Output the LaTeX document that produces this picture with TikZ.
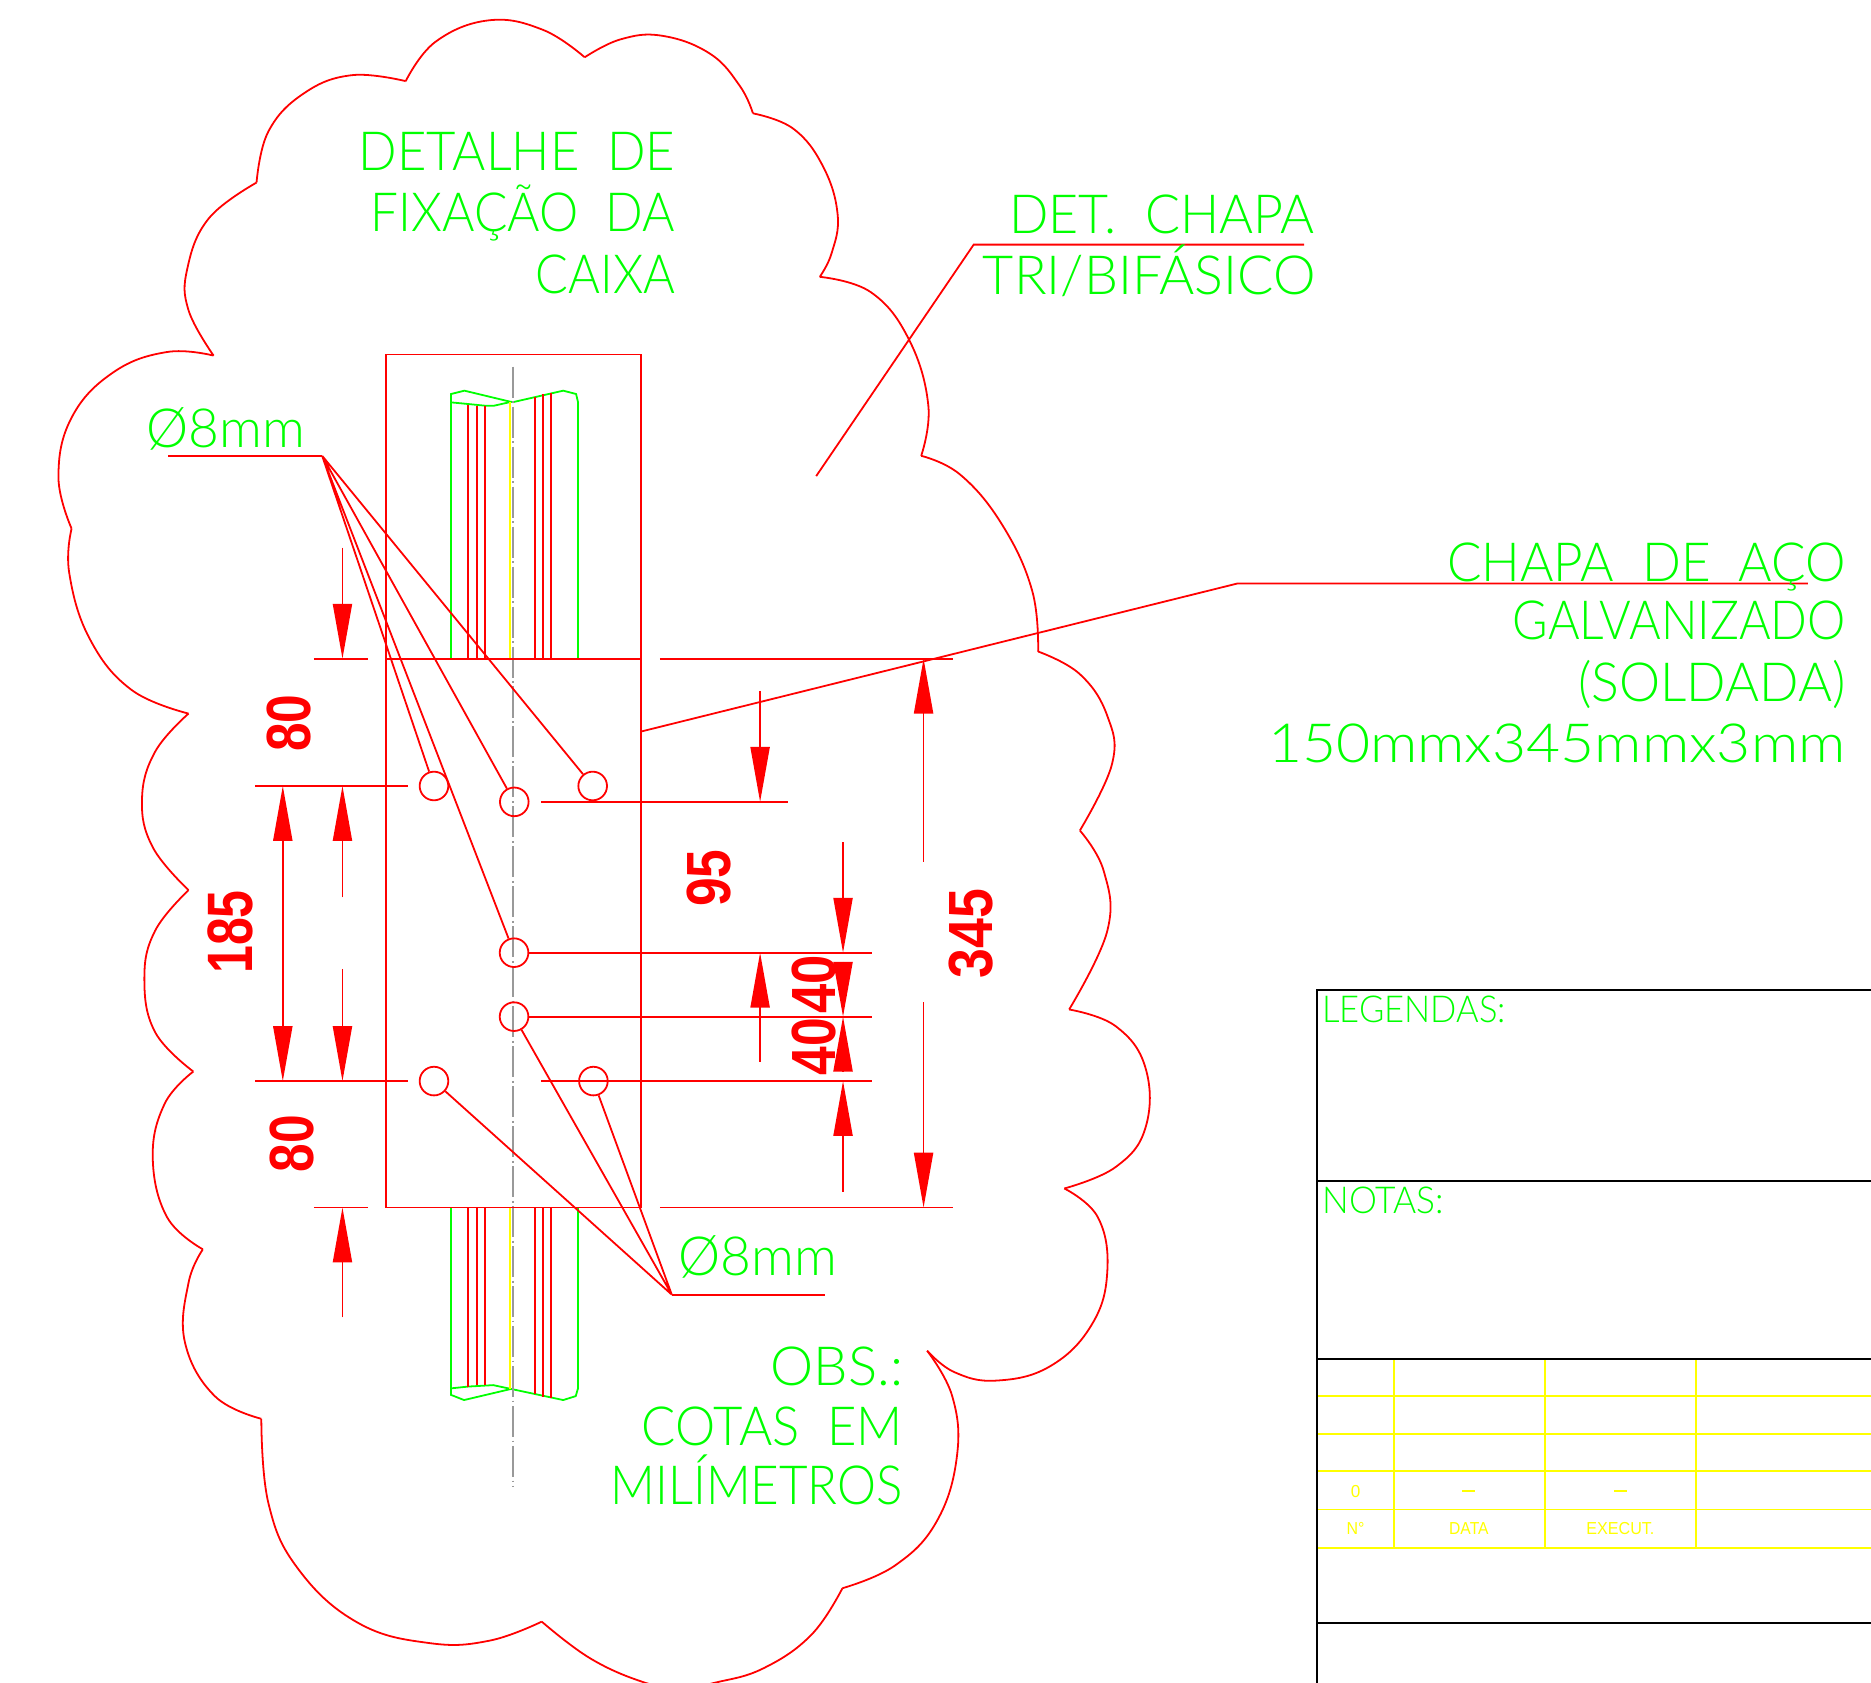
\documentclass[tikz,border=0pt]{standalone}
\usepackage{fontspec}
\usepackage{graphicx}
\usetikzlibrary{arrows.meta}
\setmainfont{Lato Light}
\newfontfamily\dimfont{Liberation Sans Bold}
\newfontfamily\smallfont{Liberation Sans}
\newcommand\cad[3]{\resizebox{#1pt}{#2pt}{\setbox0\hbox{H}\raisebox{0pt}[\ht0][0pt]{#3}}}
\definecolor{cadred}{RGB}{255,0,0}
\definecolor{cadgreen}{RGB}{0,255,0}
\definecolor{cadyellow}{RGB}{255,255,0}
\definecolor{cadgray}{RGB}{153,153,153}
\tikzset{
  rl/.style={draw=cadred,line width=1.5pt},
  gl/.style={draw=cadgreen,line width=1.5pt},
  yl/.style={draw=cadyellow,line width=1.5pt},
  kl/.style={draw=black,line width=1.7pt},
  cl/.style={draw=cadgray,line width=1.4pt,dash pattern=on 26pt off 3pt on 1.5pt off 3pt},
  dimar/.style={rl,-{Triangle[length=46pt,width=16pt,fill=cadred]}},
  dimdbl/.style={rl,{Triangle[length=46pt,width=16pt,fill=cadred]}-{Triangle[length=46pt,width=16pt,fill=cadred]}},
  hole/.style={circle,draw=cadred,line width=1.5pt,minimum size=24pt,inner sep=0pt},
  gt/.style={text=cadgreen,inner sep=0pt,anchor=base east},
  gtl/.style={text=cadgreen,inner sep=0pt,anchor=base west},
  yt/.style={text=cadyellow,inner sep=0pt,anchor=base,font=\smallfont},
  dt/.style={text=cadred,inner sep=0pt,rotate=90,anchor=center,font=\dimfont},
}
\begin{document}
\begin{tikzpicture}[x=1pt,y=-1pt]
\useasboundingbox (0,0) rectangle (1568,1410.4);
\clip (0,0) rectangle (1568,1410.4);
\fill[white] (0,0) rectangle (1568,1410.4);
% revision cloud
\foreach \seg in {
 {(490,48) (520,33) (555,30) (595,45) (620,72) (631,95)},
 {(631,95) (665,108) (690,140) (702,180) (697,212) (687,232)},
 {(687,232) (730,245) (762,285) (778,340) (772,382)},
 {(772,382) (805,398) (840,440) (865,495) (870,546)},
 {(870,546) (905,565) (928,600) (932,640) (905,696)},
 {(905,696) (925,730) (928,780) (896,846)},
 {(896,846) (935,860) (960,895) (960,945) (935,978) (892,996)},
 {(892,996) (920,1020) (928,1065) (915,1110) (880,1145) (835,1157) (800,1150) (777,1132)},
 {(777,1132) (798,1170) (802,1220) (785,1275) (750,1312) (706,1331)},
 {(706,1331) (680,1370) (640,1398) (600,1410) (570,1415) (540,1410) (495,1390) (454,1359)},
 {(454,1359) (410,1375) (360,1377) (300,1360) (250,1315) (225,1260) (219,1189)},
 {(219,1189) (180,1170) (155,1125) (158,1075) (170,1047)},
 {(170,1047) (140,1020) (128,970) (138,925) (162,898)},
 {(162,898) (130,865) (121,820) (130,780) (158,746)},
 {(158,746) (128,710) (119,670) (130,630) (158,598)},
 {(158,598) (110,578) (75,535) (58,480) (60,443)},
 {(60,443) (49,400) (60,350) (95,312) (140,295) (179,298)},
 {(179,298) (158,260) (157,225) (175,183) (215,153)},
 {(215,153) (225,110) (255,78) (295,63) (340,68)},
 {(340,68) (365,35) (410,17) (455,25) (490,48)}}
 {\draw[rl] plot[smooth,tension=0.7] coordinates \seg;}
% legend frame
\foreach \yy in {1170,1202,1233,1265,1297} \draw[yl] (1104,\yy) -- (1568,\yy);
\foreach \xx in {1168.4,1294.6,1421} \draw[yl] (\xx,1139) -- (\xx,1297);
\draw[kl] (1568,830) -- (1104,830) -- (1104,1410.4);
\draw[kl] (1104,990) -- (1568,990);
\draw[kl] (1104,1138.5) -- (1568,1138.5);
\draw[kl] (1104,1360) -- (1568,1360);
\node[yt] at (1136,1255) {\cad{8}{10}{0}};
\node[yt] at (1231,1250) {\cad{11}{1.4}{\rule{1em}{1ex}}};
\node[yt] at (1358,1250) {\cad{11}{1.4}{\rule{1em}{1ex}}};
\node[yt] at (1136,1286) {\cad{15}{10}{N°}};
\node[yt] at (1231,1286) {\cad{33}{10}{DATA}};
\node[yt] at (1358,1286) {\cad{57}{10}{EXECUT.}};
\node[gtl] at (1108,857) {\cad{154}{22}{LEGENDAS:}};
\node[gtl] at (1108,1017) {\cad{102}{22}{NOTAS:}};
% rails
\draw[gl] (378,552) -- (378,330.2) -- (389.2,327.4) -- (427.4,336.6) -- (430,337) -- (472,327.4) -- (482.8,330.2) -- (484.4,337) -- (484.4,552);
\draw[gl] (378,337.2) -- (392.5,338.6) -- (406.5,340) -- (414,340) -- (427.4,337);
\draw[rl] (392.5,339)--(392.5,552) (399.5,340)--(399.5,552) (406.2,340)--(406.2,552);
\draw[rl] (448.4,333)--(448.4,552) (455,330.6)--(455,552) (461.8,329.2)--(461.8,552);
\draw[yl] (427.7,337)--(427.7,552);
\draw[gl] (378,1012) -- (378,1169) -- (388.9,1173.3) -- (428.3,1164) -- (472,1173.3) -- (482.5,1170) -- (484.4,1163.5) -- (484.4,1012);
\draw[gl] (378,1163.5) -- (392.5,1162) -- (413.3,1160.8) -- (428.3,1164);
\draw[rl] (392.5,1012)--(392.5,1162) (399.5,1012)--(399.5,1161) (406.2,1012)--(406.2,1161);
\draw[rl] (448.4,1012)--(448.4,1168) (455,1012)--(455,1170.7) (461.8,1012)--(461.8,1172);
\draw[yl] (427.7,1012)--(427.7,1164);
\draw[cl] (430,307.3) -- (430,1245.5);
% plates
\draw[rl] (323.5,1012) -- (323.5,297) -- (537.5,297) -- (537.5,1012) -- cycle;
\draw[rl] (323.5,552) -- (537.5,552);
% holes
\node[hole] (h1) at (363.7,658.7) {};
\node[hole] (h2) at (431,672) {};
\node[hole] (h3) at (496.7,658.7) {};
\node[hole] (h4) at (430.8,798.4) {};
\node[hole] (h5) at (430.8,852) {};
\node[hole] (h6) at (363.7,906) {};
\node[hole] (h7) at (497.3,906) {};
% extension lines
\draw[rl] (263,552)--(308,552) (553,552)--(799,552);
\draw[rl] (214,658.7)--(342,658.7);
\draw[rl] (453.4,672)--(660,672);
\draw[rl] (h4.east)--(731,798.4);
\draw[rl] (h5.east)--(731,852);
\draw[rl] (214,906)--(342,906) (453.4,906)--(731,906);
\draw[rl] (263,1012)--(308,1012) (553,1012)--(799,1012);
% dimensions
\draw[dimar] (287,459)--(287,552);
\draw[dimar] (287,752)--(287,658.7);
\draw[dimar] (287,812)--(287,906);
\draw[dimar] (287,1104)--(287,1012);
\draw[dimdbl] (237,658.7)--(237,906);
\draw[dimar] (637,579)--(637,672);
\draw[dimar] (637,890)--(637,798.4);
\draw[dimar] (706.5,706)--(706.5,798.4);
\draw[dimar] (706.5,806)--(706.5,852);
\draw[dimar] (706.5,898)--(706.5,852);
\draw[dimar] (706.5,998.7)--(706.5,906);
\draw[dimar] (774,722)--(774,552);
\draw[dimar] (774,840)--(774,1012);
\node[dt] at (242.5,606) {\cad{48}{36}{80}};
\node[dt] at (245,958.5) {\cad{48}{36}{80}};
\node[dt] at (193,781) {\cad{70}{37}{185}};
\node[dt] at (594,736) {\cad{48}{36}{95}};
\node[dt] at (682,825) {\cad{49}{36}{40}};
\node[dt] at (682,877) {\cad{48}{36}{40}};
\node[dt] at (814,782.5) {\cad{75}{36}{345}};
% leaders
\coordinate (lt) at (270,382);
\coordinate (lb) at (563,1085);
\draw[rl] (141,382) -- (lt);
\draw[rl] (lt)--(h1) (lt)--(h2) (lt)--(h3) (lt)--(h4);
\draw[rl] (691,1085) -- (lb);
\draw[rl] (lb)--(h5) (lb)--(h6) (lb)--(h7);
\draw[rl] (1093,205) -- (816,205) -- (684,399);
\draw[rl] (1515,489) -- (1037,489) -- (537.5,613);
% texts
\node[gt] at (566,143) {\cad{265}{32}{DETALHE\ \ DE}};
\node[gt] at (566,194) {\cad{255}{32}{FIXAÇÃO\ \ DA}};
\node[gt] at (566,246) {\cad{117}{32}{CAIXA}};
\node[gt] at (1102,196) {\cad{256}{32}{DET.\ \ CHAPA}};
\node[gt] at (1103,247) {\cad{279}{32}{TRI/BIFÁSICO}};
\node[gt] at (256,375) {\cad{133}{32}{Ø8mm}};
\node[gt] at (702,1069) {\cad{133}{32}{Ø8mm}};
\node[gt] at (1547,487) {\cad{334}{32}{CHAPA\ \ DE\ \ AÇO}};
\node[gt] at (1547,536) {\cad{279}{32}{GALVANIZADO}};
\node[gt] at (1547,588) {\cad{224}{32}{(SOLDADA)}};
\node[gt] at (1547,639) {\cad{484}{32}{150mmx345mmx3mm}};
\node[gt] at (757,1161) {\cad{111}{32}{OBS.:}};
\node[gt] at (757,1211) {\cad{219}{32}{COTAS\ \ EM}};
\node[gt] at (757,1261) {\cad{245}{32}{MILÍMETROS}};
\end{tikzpicture}
\end{document}
